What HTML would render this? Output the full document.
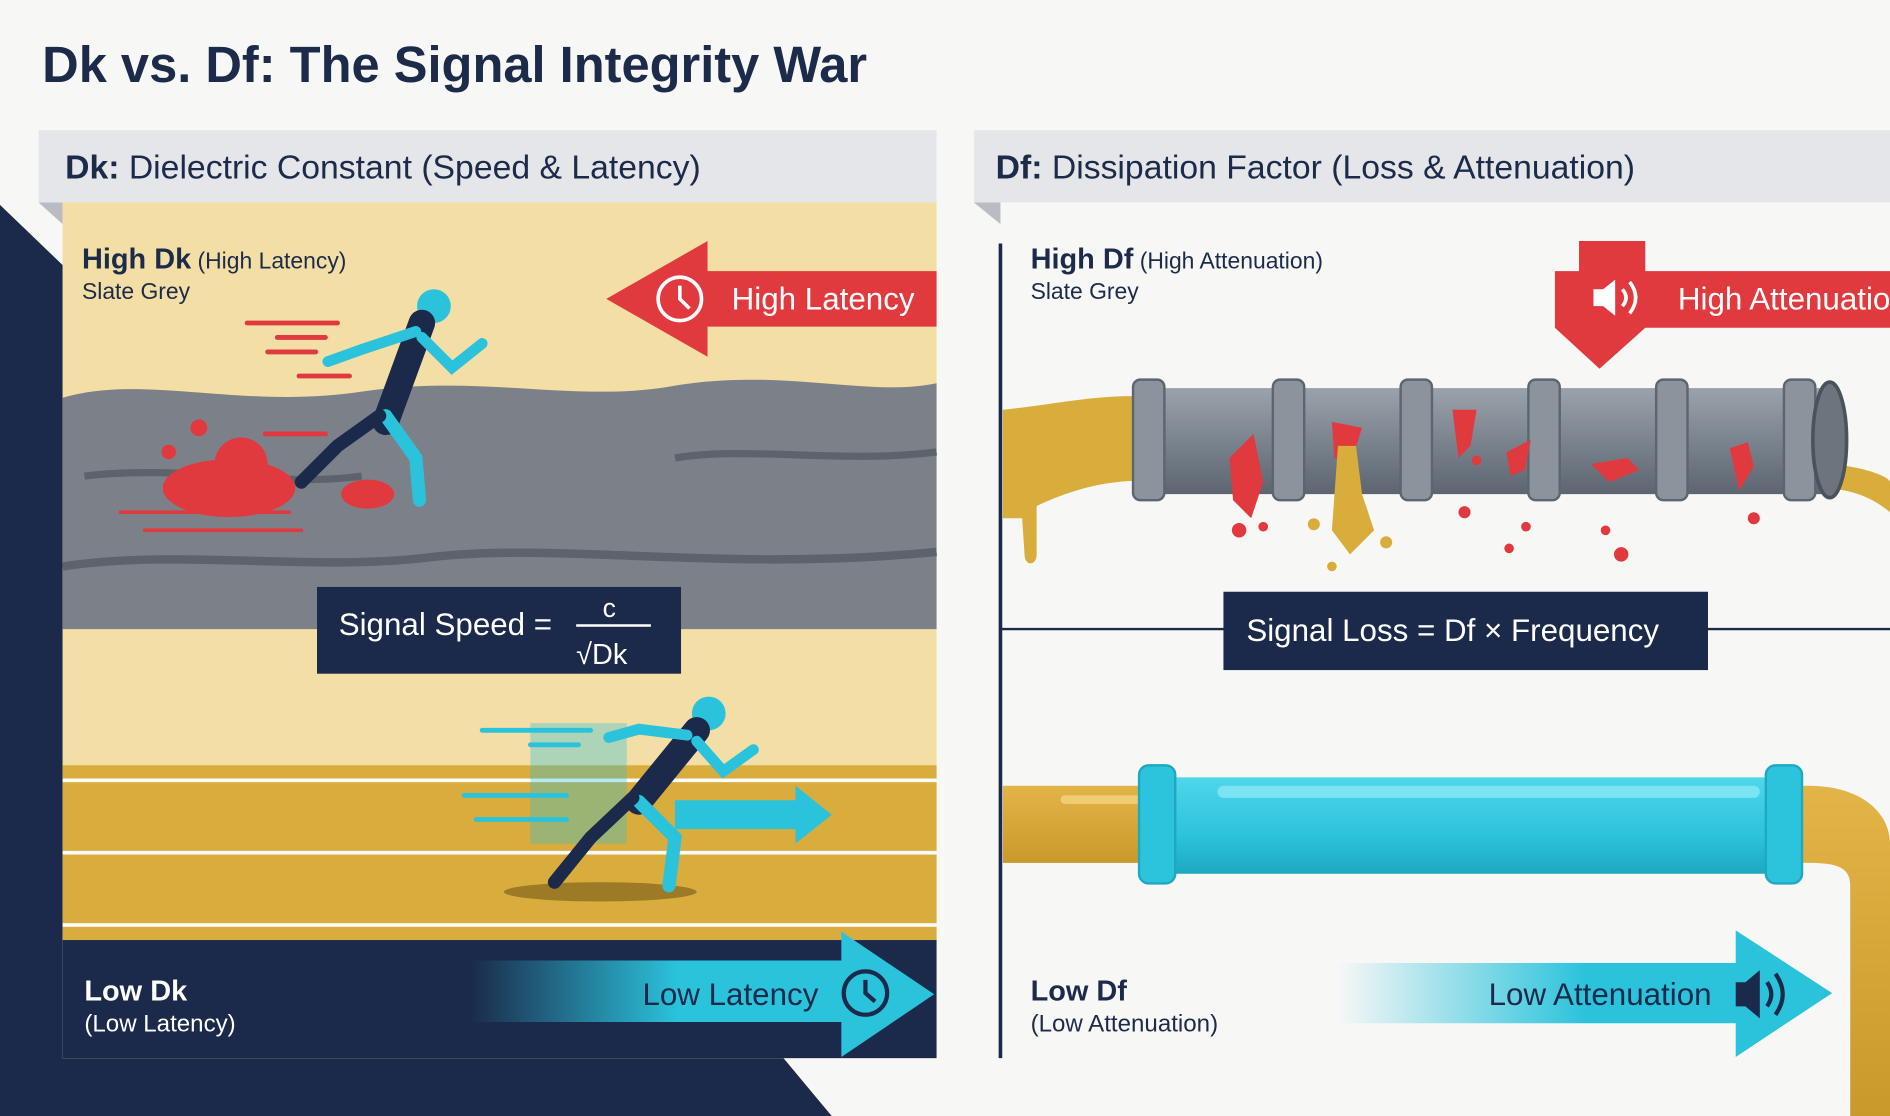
<!DOCTYPE html>
<html><head><meta charset="utf-8"><style>
html,body{margin:0;padding:0;background:#f7f7f6;}
svg{display:block;}
text{font-family:"Liberation Sans",sans-serif;}
</style></head><body>
<svg width="1890" height="1116" viewBox="0 0 1568 926" preserveAspectRatio="none" xmlns="http://www.w3.org/2000/svg">
<defs>
<linearGradient id="cy" x1="0" x2="1"><stop offset="0" stop-color="#2bc3dc" stop-opacity="0"/><stop offset="0.45" stop-color="#2bc3dc"/><stop offset="1" stop-color="#2bc3dc"/></linearGradient>
<linearGradient id="cy2" x1="0" x2="1"><stop offset="0" stop-color="#2bc3dc" stop-opacity="0"/><stop offset="0.5" stop-color="#2bc3dc"/><stop offset="1" stop-color="#2bc3dc"/></linearGradient>
<linearGradient id="pg" x1="0" y1="0" x2="0" y2="1"><stop offset="0" stop-color="#9aa2ab"/><stop offset="0.5" stop-color="#7b848e"/><stop offset="1" stop-color="#5c6570"/></linearGradient>
<linearGradient id="pc" x1="0" y1="0" x2="0" y2="1"><stop offset="0" stop-color="#4fd6ea"/><stop offset="0.6" stop-color="#2cc3dc"/><stop offset="1" stop-color="#1ea8c2"/></linearGradient>
<linearGradient id="pgold" x1="0" y1="0" x2="0" y2="1"><stop offset="0" stop-color="#e3b447"/><stop offset="1" stop-color="#c9992c"/></linearGradient>
</defs>
<rect width="1568" height="926" fill="#f7f7f6"/>
<!-- title -->
<text x="35" y="68" font-size="42" font-weight="bold" fill="#1c2b4a">Dk vs. Df: The Signal Integrity War</text>
<!-- navy background shape -->
<polygon points="0,170 52,220 52,878 650,878 690,926 0,926" fill="#1b2a4a"/>
<!-- left header -->
<rect x="32" y="108" width="745" height="60" fill="#e5e6e9"/>
<polygon points="32,168 52,168 52,186" fill="#b9bcc2"/>
<text x="54" y="148" font-size="28" fill="#1c2b4a"><tspan font-weight="bold">Dk:</tspan> Dielectric Constant (Speed &amp; Latency)</text>
<!-- left content -->
<rect x="52" y="168" width="725" height="710" fill="#f3dea6"/>
<path d="M52,330 C120,310 200,340 300,325 C400,310 480,335 560,320 C650,305 720,330 777,318 L777,522 L52,522 Z" fill="#7c8189"/>
<path d="M70,395 C150,385 230,405 300,395" stroke="#5d636c" stroke-width="6" fill="none"/>
<path d="M560,380 C620,370 700,385 777,375" stroke="#5d636c" stroke-width="6" fill="none"/>
<path d="M52,470 C150,455 260,475 360,462 C470,450 600,475 777,458" stroke="#5d636c" stroke-width="7" fill="none"/>
<rect x="52" y="635" width="725" height="145" fill="#d8ac3d"/>
<rect x="52" y="646" width="725" height="3" fill="#fff"/>
<rect x="52" y="706" width="725" height="3" fill="#fff"/>
<rect x="52" y="766" width="725" height="3" fill="#fff"/>
<rect x="52" y="780" width="725" height="98" fill="#1b2a4a"/>
<text x="68" y="223" font-size="24" fill="#1c2b4a"><tspan font-weight="bold">High Dk</tspan><tspan font-size="19"> (High Latency)</tspan></text>
<text x="68" y="248" font-size="19" fill="#1c2b4a">Slate Grey</text>
<!-- red arrow left -->
<polygon points="503,248 587,200 587,225 777,225 777,271 587,271 587,296" fill="#e0393e"/>
<circle cx="564" cy="248" r="18" fill="none" stroke="#fff" stroke-width="3"/>
<path d="M564,237 L564,248 L572,256" stroke="#fff" stroke-width="3" fill="none"/>
<text x="607" y="257" font-size="26" fill="#fff">High Latency</text>
<!-- runner 1 (slow) -->
<g stroke-linecap="round">
<path d="M205,268 H280 M230,280 H270 M222,292 H262 M248,312 H290 M220,360 H270" stroke="#e0393e" stroke-width="4"/>
<circle cx="360" cy="254" r="14" fill="#2bc3dc"/>
<path d="M350,268 L320,350" stroke="#1b2a4a" stroke-width="22"/>
<path d="M345,275 L300,290 L272,300" stroke="#2bc3dc" stroke-width="9" fill="none"/>
<path d="M350,280 L375,305 L400,285" stroke="#2bc3dc" stroke-width="9" fill="none"/>
<path d="M320,345 L345,380 L348,415" stroke="#2bc3dc" stroke-width="11" fill="none"/>
<path d="M315,345 L280,370 L250,400" stroke="#1b2a4a" stroke-width="11" fill="none"/>
<ellipse cx="190" cy="405" rx="55" ry="24" fill="#e0393e"/>
<circle cx="200" cy="385" r="22" fill="#e0393e"/>
<circle cx="165" cy="355" r="7" fill="#e0393e"/>
<circle cx="140" cy="375" r="6" fill="#e0393e"/>
<ellipse cx="305" cy="410" rx="22" ry="12" fill="#e0393e"/>
<path d="M100,425 H240 M120,440 H250" stroke="#e0393e" stroke-width="3"/>
</g>
<!-- formula box -->
<rect x="263" y="487" width="302" height="72" fill="#1b2a4a"/>
<text x="281" y="527" font-size="26" fill="#fff">Signal Speed =</text>
<text x="500" y="512" font-size="22" fill="#fff">c</text>
<line x1="478" y1="519" x2="540" y2="519" stroke="#fff" stroke-width="2"/>
<text x="478" y="551" font-size="24" fill="#fff">√Dk</text>
<!-- runner 2 (fast) -->
<g stroke-linecap="round">
<path d="M400,606 H490 M440,618 H480 M385,660 H470 M395,680 H470" stroke="#2bc3dc" stroke-width="4"/>
<rect x="440" y="600" width="80" height="100" fill="#2bc3dc" opacity="0.35"/>
<ellipse cx="498" cy="740" rx="80" ry="8" fill="#9c7a26"/>
<circle cx="588" cy="592" r="14" fill="#2bc3dc"/>
<path d="M578,606 L530,665" stroke="#1b2a4a" stroke-width="22"/>
<path d="M570,610 L530,605 L505,612" stroke="#2bc3dc" stroke-width="9" fill="none"/>
<path d="M578,615 L600,640 L625,622" stroke="#2bc3dc" stroke-width="9" fill="none"/>
<path d="M530,665 L560,695 L555,735" stroke="#2bc3dc" stroke-width="11" fill="none"/>
<path d="M525,662 L490,695 L460,732" stroke="#1b2a4a" stroke-width="11" fill="none"/>
</g>
<polygon points="560,664 660,664 660,652 690,676 660,700 660,688 560,688" fill="#2bc3dc"/>
<!-- low dk -->
<text x="70" y="830" font-size="24" font-weight="bold" fill="#fff">Low Dk</text>
<text x="70" y="856" font-size="20" fill="#fff">(Low Latency)</text>
<polygon points="390,797 698,797 698,773 775,825 698,877 698,848 390,848" fill="url(#cy)"/>
<text x="533" y="834" font-size="26" fill="#1b2a4a">Low Latency</text>
<circle cx="718" cy="824" r="18" fill="none" stroke="#1b2a4a" stroke-width="3.5"/>
<path d="M718,813 L718,824 L726,831" stroke="#1b2a4a" stroke-width="3.5" fill="none"/>
<!-- right header -->
<rect x="808" y="108" width="760" height="60" fill="#e5e6e9"/>
<polygon points="808,168 830,168 830,186" fill="#b9bcc2"/>
<text x="826" y="148" font-size="28" fill="#1c2b4a"><tspan font-weight="bold">Df:</tspan> Dissipation Factor (Loss &amp; Attenuation)</text>
<line x1="830" y1="202" x2="830" y2="878" stroke="#1b2a4a" stroke-width="3"/>
<line x1="830" y1="522" x2="1568" y2="522" stroke="#1b2a4a" stroke-width="2"/>
<text x="855" y="223" font-size="24" fill="#1c2b4a"><tspan font-weight="bold">High Df</tspan><tspan font-size="19"> (High Attenuation)</tspan></text>
<text x="855" y="248" font-size="19" fill="#1c2b4a">Slate Grey</text>
<!-- red arrow -->
<polygon points="1290,225 1310,225 1310,200 1365,200 1365,225 1568,225 1568,272 1365,272 1327,306 1290,272" fill="#e0393e"/>
<polygon points="1322,240 1330,240 1340,232 1340,262 1330,254 1322,254" fill="#fff"/>
<path d="M1346,240 Q1352,247 1346,254 M1352,234 Q1362,247 1352,260" stroke="#fff" stroke-width="3" fill="none"/>
<text x="1392" y="257" font-size="26" fill="#fff">High Attenuatio</text>
<!-- gold flow in -->
<path d="M832,340 C880,335 920,325 960,330 L960,400 C920,395 880,410 860,420 L860,460 C860,470 850,470 850,460 L848,430 L832,430 Z" fill="#d9ad3c"/>
<path d="M1510,385 C1540,385 1568,395 1568,400 L1568,425 C1550,410 1530,405 1510,405 Z" fill="#d9ad3c"/>
<!-- grey pipe -->
<rect x="945" y="322" width="575" height="88" fill="url(#pg)"/>
<g fill="#8b939c" stroke="#5c6570" stroke-width="2">
<rect x="940" y="315" width="26" height="100" rx="6"/>
<rect x="1056" y="315" width="26" height="100" rx="6"/>
<rect x="1162" y="315" width="26" height="100" rx="6"/>
<rect x="1268" y="315" width="26" height="100" rx="6"/>
<rect x="1374" y="315" width="26" height="100" rx="6"/>
<rect x="1480" y="315" width="26" height="100" rx="6"/>
</g>
<ellipse cx="1518" cy="365" rx="14" ry="48" fill="#6c747e" stroke="#4a525c" stroke-width="3"/>
<g fill="#e0393e">
<path d="M1020,380 l20,-20 l8,40 l-10,30 l-15,-15 z"/><circle cx="1028" cy="440" r="6"/><circle cx="1048" cy="437" r="4"/>
<path d="M1105,350 l25,5 l-8,25 l-15,0 z"/>
<path d="M1205,340 l20,0 l-5,30 l-10,10 z"/><circle cx="1215" cy="425" r="5"/><circle cx="1225" cy="382" r="4"/>
<path d="M1250,375 l20,-10 l-5,25 l-12,5 z"/><circle cx="1252" cy="455" r="4"/><circle cx="1266" cy="437" r="4"/>
<path d="M1320,385 l30,-5 l10,10 l-25,10 z"/><circle cx="1345" cy="460" r="6"/><circle cx="1332" cy="440" r="4"/>
<path d="M1435,372 l15,-5 l5,20 l-12,20 z"/><circle cx="1455" cy="430" r="5"/>
</g>
<path d="M1110,370 l15,0 l5,40 l10,30 l-20,20 l-15,-20 z" fill="#d9ad3c"/>
<circle cx="1090" cy="435" r="5" fill="#d9ad3c"/><circle cx="1150" cy="450" r="5" fill="#d9ad3c"/><circle cx="1105" cy="470" r="4" fill="#d9ad3c"/>
<!-- formula box right -->
<rect x="1015" y="491" width="402" height="65" fill="#1b2a4a"/>
<text x="1034" y="532" font-size="26" fill="#fff">Signal Loss = Df × Frequency</text>
<!-- cyan pipe -->
<rect x="832" y="652" width="130" height="64" fill="url(#pgold)"/>
<rect x="880" y="660" width="70" height="7" rx="3" fill="#f0cd74"/>
<path d="M1480,652 L1500,652 C1545,652 1568,675 1568,700 L1568,926 L1535,926 L1535,735 C1535,720 1525,716 1500,716 L1480,716 Z" fill="url(#pgold)"/>
<rect x="960" y="645" width="520" height="80" fill="url(#pc)"/>
<rect x="1010" y="652" width="450" height="10" rx="5" fill="#7be3f2"/>
<rect x="945" y="635" width="30" height="98" rx="8" fill="#2cc3dc" stroke="#1ea8c2" stroke-width="2"/>
<rect x="1465" y="635" width="30" height="98" rx="8" fill="#2cc3dc" stroke="#1ea8c2" stroke-width="2"/>
<!-- low df -->
<text x="855" y="830" font-size="24" font-weight="bold" fill="#1c2b4a">Low Df</text>
<text x="855" y="856" font-size="20" fill="#1c2b4a">(Low Attenuation)</text>
<polygon points="1110,799 1440,799 1440,772 1520,824 1440,877 1440,849 1110,849" fill="url(#cy2)"/>
<text x="1235" y="834" font-size="26" fill="#1b2a4a">Low Attenuation</text>
<polygon points="1440,815 1448,815 1460,805 1460,845 1448,835 1440,835" fill="#1b2a4a"/>
<path d="M1466,815 Q1473,825 1466,835 M1473,808 Q1485,825 1473,842" stroke="#1b2a4a" stroke-width="3.5" fill="none"/>
</svg>
</body></html>
